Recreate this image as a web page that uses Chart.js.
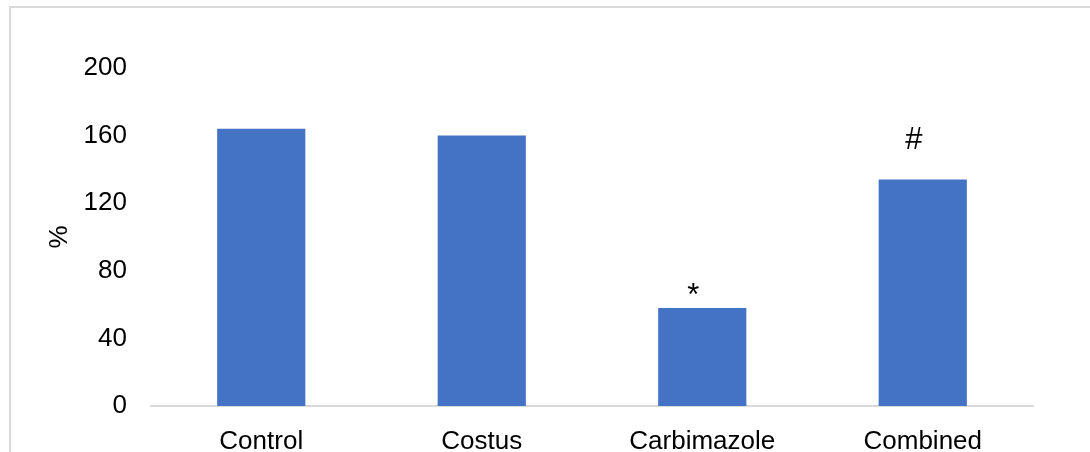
<!DOCTYPE html>
<html>
<head>
<meta charset="utf-8">
<script src="https://cdn.jsdelivr.net/npm/chart.js"></script>
<style>
  html, body { margin: 0; padding: 0; background: #fff; overflow: hidden; }
  #wrap { position: relative; width: 1090px; height: 452px; }
  #frame { position: absolute; left: 9px; top: 6px; width: 1100px; height: 460px; border: 2px solid #d9d9d9; box-sizing: border-box; }
  canvas { position: absolute; left: 0; top: 0; }
</style>
</head>
<body>
<div id="wrap">
  <div id="frame"></div>
  <canvas id="chart" width="1090" height="452"></canvas>
</div>
<script>
const groups = ['Control', 'Costus', 'Carbimazole', 'Combined'];
const percentValues = [164, 160, 58, 134];
const signifMarks = ['', '', '*', '#'];
const yTicks = [0, 40, 80, 120, 160, 200];

document.addEventListener('DOMContentLoaded', () => {
    const font = { family: '"Liberation Sans", Arial, sans-serif', size: 26 };

    // draws the * and # above the bars
    const marksPlugin = {
        id: 'marks',
        afterDatasetsDraw(chart) {
            const ctx = chart.ctx;
            const meta = chart.getDatasetMeta(0);
            const lift = { '*': 3, '#': 31 };
            ctx.save();
            ctx.fillStyle = '#000';
            ctx.font = '31px "Liberation Sans", Arial, sans-serif';
            ctx.textAlign = 'center';
            ctx.textBaseline = 'alphabetic';
            signifMarks.forEach((m, i) => {
                if (!m) return;
                const bar = meta.data[i];
                ctx.fillText(m, bar.x - 9, bar.y - lift[m]);
            });
            ctx.restore();
        }
    };

    const ctx = document.getElementById('chart').getContext('2d');
    new Chart(ctx, {
        type: 'bar',
        data: {
            labels: groups,
            datasets: [{
                label: '%',
                data: percentValues,
                backgroundColor: '#4472C4',
                categoryPercentage: 1,
                barPercentage: 0.4
            }]
        },
        options: {
            responsive: false,
            animation: false,
            layout: { padding: { top: 68, right: 57, bottom: 0, left: 0 } },
            scales: {
                y: {
                    min: 0,
                    max: 200,
                    afterBuildTicks: (scale) => {
                        scale.ticks = yTicks.map(v => ({ value: v }));
                    },
                    afterFit: (scale) => { scale.width = 151; },
                    grid: { display: false, drawTicks: false },
                    border: { display: false },
                    ticks: { color: '#000', font: font, padding: 24 },
                    title: {
                        display: true,
                        text: '%',
                        color: '#000',
                        font: font,
                        padding: { top: 44, bottom: 0 }
                    }
                },
                x: {
                    afterFit: (scale) => { scale.height = 46; },
                    grid: { display: false, drawTicks: false },
                    border: { display: true, color: '#d9d9d9', width: 2 },
                    ticks: { color: '#000', font: font, padding: 20 }
                }
            },
            plugins: {
                legend: { display: false },
                tooltip: { enabled: false }
            }
        },
        plugins: [marksPlugin]
    });
});
</script>
</body>
</html>
